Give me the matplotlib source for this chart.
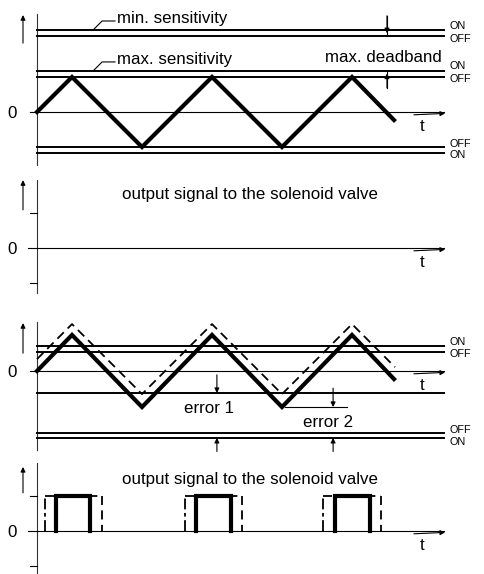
import matplotlib
matplotlib.use("Agg")
import matplotlib.pyplot as plt

plt.rcParams['font.family'] = ['Liberation Sans', 'DejaVu Sans']

# ---------------- data ----------------
# time axis units (quarter periods), 0 = start of wave
wave_t = [0, 1, 3, 5, 7, 9, 10.2]
wave1_y = [0, 1, -1, 1, -1, 1, -0.23]
wave3_solid_y = [0, 1.03, -1.03, 1.03, -1.03, 1.03, -0.23]
wave3_dash_t = [0, 1, 3, 5, 7, 9, 10.23]
wave3_dash_y = [0.34, 1.34, -0.66, 1.34, -0.66, 1.34, 0.11]

# panel 1 switching levels
p1_levels = {"min_on": 2.34, "min_off": 2.17, "max_on": 1.17, "max_off": 1.0,
             "low_off": -1.0, "low_on": -1.17}
# panel 3 switching levels
p3_levels = {"on": 0.71, "off": 0.54, "err1": -0.63, "err2": -1.03,
             "low_off": -1.77, "low_on": -1.91}

pulse_solid_start = [0.54, 4.54, 8.51]
pulse_solid_end = [1.51, 5.54, 9.51]
pulse_dash_start = [0.23, 4.23, 8.17]
pulse_dash_end = [1.86, 5.86, 9.83]
pulse_height = 1.0

label_title = "output signal to the solenoid valve"

# ---------------- layout ----------------
W, H = 485, 574
PX = 35.0          # pixels per data unit
X0 = 37            # pixel of t = 0
fig = plt.figure(figsize=(W / 100, H / 100), dpi=100)

def make_ax(top, bottom, zero):
    ax = fig.add_axes([0, 1 - bottom / H, 1, (bottom - top) / H])
    ax.set_xlim(-X0 / PX, (W - X0) / PX)
    ax.set_ylim((zero - bottom) / PX, (zero - top) / PX)
    ax.axis('off')
    return ax

T_END = 11.63
K = 'black'
THIN = 0.8
LEV = 1.4
THICK = 3.0
FS = 12.2
FS_SMALL = 7.8

def arrow(ax, tail, tip, lw=0.8, ms=7):
    ax.annotate('', xy=tip, xytext=tail,
                arrowprops=dict(arrowstyle='-|>', lw=lw, color=K,
                                mutation_scale=ms, shrinkA=0, shrinkB=0))

def common(ax, ytop, ybot, up_from, up_to, zero_start=-0.2):
    ax.plot([0, 0], [ybot, ytop], color='#333333', lw=THIN)
    arrow(ax, (-0.4, up_from), (-0.4, up_to))
    ax.plot([zero_start, T_END], [0, 0], color=K, lw=THIN)
    arrow(ax, (10.77, -0.08), (11.66, -0.04))
    ax.text(10.99, -0.53, 't', fontsize=FS, ha='center', va='baseline')
    ax.text(-0.71, 0, '0', fontsize=FS, ha='center', va='center_baseline')

def onoff(ax, y, text, dy):
    ax.plot([0, T_END], [y, y], color=K, lw=LEV)
    ax.text(11.8, y + dy, text, fontsize=FS_SMALL, ha='left', va='center')

# ---- panel 1 ----
ax1 = make_ax(0, 166, 112)
common(ax1, 2.8, -1.51, 1.97, 2.77)
onoff(ax1, p1_levels["min_on"], 'ON', 0.13)
onoff(ax1, p1_levels["min_off"], 'OFF', -0.08)
onoff(ax1, p1_levels["max_on"], 'ON', 0.14)
onoff(ax1, p1_levels["max_off"], 'OFF', -0.06)
onoff(ax1, p1_levels["low_off"], 'OFF', 0.09)
onoff(ax1, p1_levels["low_on"], 'ON', -0.07)
ax1.plot(wave_t, wave1_y, color=K, lw=THICK, solid_joinstyle='miter')
# leaders
ax1.plot([1.6, 1.86, 2.23], [p1_levels["min_on"], 2.6, 2.6], color=K, lw=THIN)
ax1.text(2.29, 2.53, 'min. sensitivity', fontsize=FS, ha='left', va='baseline')
ax1.plot([1.6, 1.86, 2.23], [p1_levels["max_on"], 1.43, 1.43], color=K, lw=THIN)
ax1.text(2.29, 1.36, 'max. sensitivity', fontsize=FS, ha='left', va='baseline')
ax1.text(11.57, 1.43, 'max. deadband', fontsize=FS, ha='right', va='baseline')
ax1.plot([10.0, 10.0], [2.75, p1_levels["min_off"]], color=K, lw=THIN)
arrow(ax1, (10.0, 2.75), (10.0, 2.25))
ax1.plot([10.0, 10.0], [0.69, p1_levels["max_on"]], color=K, lw=THIN)
arrow(ax1, (10.0, 0.69), (10.0, 1.1))

# ---- panel 2 ----
ax2 = make_ax(166, 305, 248)
common(ax2, 1.94, -1.29, 1.09, 1.94, zero_start=-0.26)
ax2.plot([-0.2, 0], [1, 1], color=K, lw=THIN)
ax2.plot([-0.2, 0], [-1, -1], color=K, lw=THIN)
ax2.text(6.09, 1.39, label_title, fontsize=FS, ha='center', va='baseline')

# ---- panel 3 ----
ax3 = make_ax(305, 452, 371)
common(ax3, 1.4, -2.26, 0.51, 1.37)
onoff(ax3, p3_levels["on"], 'ON', 0.12)
onoff(ax3, p3_levels["off"], 'OFF', -0.06)
ax3.plot([0, T_END], [p3_levels["err1"]] * 2, color=K, lw=LEV)
ax3.plot([7.09, 8.86], [p3_levels["err2"]] * 2, color=K, lw=THIN)
onoff(ax3, p3_levels["low_off"], 'OFF', 0.08)
onoff(ax3, p3_levels["low_on"], 'ON', -0.13)
ax3.plot(wave3_dash_t, wave3_dash_y, color=K, lw=1.3, ls=(0, (5, 3)))
ax3.plot(wave_t, wave3_solid_y, color=K, lw=THICK, solid_joinstyle='miter')
arrow(ax3, (5.14, -0.11), (5.14, p3_levels["err1"]))
arrow(ax3, (8.46, -0.49), (8.46, p3_levels["err2"]))
arrow(ax3, (5.14, -2.3), (5.14, p3_levels["low_on"]))
arrow(ax3, (8.46, -2.3), (8.46, p3_levels["low_on"]))
ax3.text(4.91, -1.2, 'error 1', fontsize=FS, ha='center', va='baseline')
ax3.text(8.31, -1.6, 'error 2', fontsize=FS, ha='center', va='baseline')

# ---- panel 4 ----
ax4 = make_ax(452, 574, 531)
common(ax4, 1.94, -1.2, 1.09, 1.83, zero_start=-0.26)
ax4.plot([-0.2, 0], [1, 1], color=K, lw=THIN)
ax4.plot([-0.2, 0], [-1, -1], color=K, lw=THIN)
ax4.text(6.09, 1.34, label_title, fontsize=FS, ha='center', va='baseline')
for s, e in zip(pulse_dash_start, pulse_dash_end):
    ax4.plot([s, s], [0, pulse_height], color=K, lw=1.3, ls=(0, (6, 2, 2, 2)))
    ax4.plot([s, e], [pulse_height, pulse_height], color=K, lw=1.3, ls=(0, (5, 3)))
    ax4.plot([e, e], [pulse_height, 0], color=K, lw=1.3, ls=(0, (5, 3)))
for s, e in zip(pulse_solid_start, pulse_solid_end):
    ax4.plot([s, s, e, e], [0, pulse_height, pulse_height, 0], color=K, lw=THICK,
             solid_joinstyle='miter')

fig.savefig('out.png', dpi=100)
